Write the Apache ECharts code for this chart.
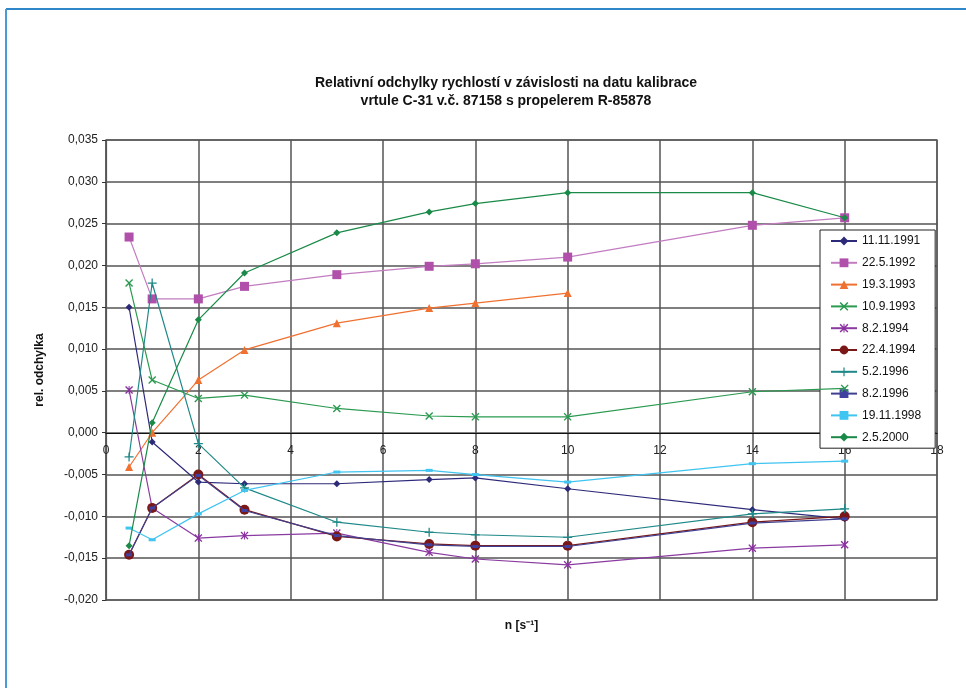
<!DOCTYPE html>
<html><head><meta charset="utf-8">
<script src="https://cdn.jsdelivr.net/npm/echarts@6/dist/echarts.min.js"></script>
<style>html,body{margin:0;padding:0;background:#fff}#c{width:966px;height:688px}</style>
</head><body><div id="c"></div>
<script>
const xValues = [0.5, 1, 2, 3, 5, 7, 8, 10, 14, 16];
const seriesNames = ['11.11.1991','22.5.1992','19.3.1993','10.9.1993','8.2.1994','22.4.1994','5.2.1996','8.2.1996','19.11.1998','2.5.2000'];
const s1991_11_11 = [0.0150, -0.0011, -0.0059, -0.0061, -0.0061, -0.0056, -0.0054, -0.0067, -0.0092, -0.0103];
const s1992_05_22 = [0.0234, 0.0160, 0.0160, 0.0175, 0.0189, 0.0199, 0.0202, 0.0210, 0.0248, 0.0257];
const s1993_03_19 = [-0.0041, 0.0000, 0.0063, 0.0099, 0.0131, 0.0149, 0.0155, 0.0167];
const s1993_09_10 = [0.0179, 0.0063, 0.0041, 0.0045, 0.0029, 0.0020, 0.0019, 0.0019, 0.0049, 0.0053];
const s1994_02_08 = [0.0051, -0.0090, -0.0126, -0.0123, -0.0120, -0.0143, -0.0151, -0.0158, -0.0138, -0.0134];
const s1994_04_22 = [-0.0146, -0.0090, -0.0050, -0.0092, -0.0124, -0.0133, -0.0135, -0.0135, -0.0107, -0.0100];
const s1996_02_05 = [-0.0029, 0.0179, -0.0013, -0.0066, -0.0107, -0.0119, -0.0122, -0.0125, -0.0097, -0.0091];
const s1996_02_08 = [-0.0146, -0.0090, -0.0051, -0.0093, -0.0123, -0.0134, -0.0136, -0.0136, -0.0108, -0.0103];
const s1998_11_19 = [-0.0114, -0.0128, -0.0097, -0.0069, -0.0047, -0.0045, -0.0050, -0.0059, -0.0037, -0.0034];
const s2000_05_02 = [-0.0135, 0.0012, 0.0135, 0.0191, 0.0239, 0.0264, 0.0274, 0.0287, 0.0287, 0.0257];
const yTicks = {min: -0.020, max: 0.035, interval: 0.005};
const xTicks = {min: 0, max: 18, interval: 2};

const allValues = [s1991_11_11, s1992_05_22, s1993_03_19, s1993_09_10, s1994_02_08, s1994_04_22, s1996_02_05, s1996_02_08, s1998_11_19, s2000_05_02];

const X_PATH = 'path://M0,1.2L1.2,0L5,3.8L8.8,0L10,1.2L6.2,5L10,8.8L8.8,10L5,6.2L1.2,10L0,8.8L3.8,5Z';
const PLUS_PATH = 'path://M4.3,0H5.7V4.3H10V5.7H5.7V10H4.3V5.7H0V4.3H4.3Z';
const AST_PATH = 'path://M0,1.2L1.2,0L5,3.8L8.8,0L10,1.2L6.2,5L10,8.8L8.8,10L5,6.2L1.2,10L0,8.8L3.8,5Z M4.4,0H5.6V10H4.4Z';

const styles = [
  {color:'#2e2a7a', line:'#2e2a7a', symbol:'diamond', size:7},
  {color:'#b050aa', line:'#c27cc0', symbol:'rect', size:9},
  {color:'#f07030', line:'#f07030', symbol:'triangle', size:8},
  {color:'#2a9a50', line:'#2a9a50', symbol:X_PATH, size:8},
  {color:'#8a30a0', line:'#8a3aa0', symbol:AST_PATH, size:8},
  {color:'#7a1818', line:'#7a1818', symbol:'circle', size:10},
  {color:'#1f8888', line:'#1f8888', symbol:PLUS_PATH, size:9},
  {color:'#4040a0', line:'#404090', symbol:'rect', size:[6,3]},
  {color:'#40c4f0', line:'#40c4f0', symbol:'rect', size:[7,3]},
  {color:'#1a8a48', line:'#1a8a48', symbol:'diamond', size:7}
];

const series = seriesNames.map((name, i) => ({
  name: name,
  type: 'line',
  data: allValues[i].map((v, j) => [xValues[j], v]),
  symbol: styles[i].symbol,
  symbolSize: styles[i].size,
  showAllSymbol: true,
  itemStyle: {color: styles[i].color},
  lineStyle: {color: styles[i].line, width: 1.2},
  z: 3 + i,
  animation: false
}));

const FONT = 'Liberation Sans, Arial, sans-serif';
const chart = echarts.init(document.getElementById('c'));
chart.setOption({
  animation: false,
  backgroundColor: '#fff',
  title: {
    text: 'Relativní odchylky rychlostí v závislosti na datu kalibrace\nvrtule C-31 v.č. 87158 s propelerem R-85878',
    left: 501, top: 69, textAlign: 'center',
    textStyle: {fontFamily: FONT, fontSize: 14, fontWeight: 'bold', color: '#111', lineHeight: 18}
  },
  legend: {
    orient: 'vertical', left: 820, top: 230,
    backgroundColor: '#fff', borderColor: '#222', borderWidth: 1,
    padding: [5, 14, 5, 10], itemGap: 9.8, itemWidth: 26, itemHeight: 11,
    textStyle: {fontFamily: FONT, fontSize: 12, color: '#111'},
    data: seriesNames
  },
  grid: {left: 106, top: 140, right: 29, bottom: 88, show: true, borderColor: '#777', borderWidth: 1.5,
    containLabel: false, outerBoundsMode: 'none'},
  xAxis: [{
    type: 'value', min: xTicks.min, max: xTicks.max, interval: xTicks.interval,
    name: 'n [s⁻¹]', nameLocation: 'middle', nameGap: 20,
    nameTextStyle: {fontFamily: FONT, fontSize: 12, fontWeight: 'bold', color: '#111'},
    axisLine: {onZero: false, show: false},
    axisTick: {show: false},
    axisLabel: {show: false},
    splitLine: {show: true, lineStyle: {color: '#555', width: 1.5}}
  }, {
    type: 'value', min: xTicks.min, max: xTicks.max, interval: xTicks.interval,
    position: 'bottom', offset: -167,
    axisLine: {onZero: false, show: true, lineStyle: {color: '#111', width: 1.2}},
    axisTick: {show: false},
    axisLabel: {fontFamily: FONT, fontSize: 12, color: '#222', margin: 12},
    splitLine: {show: false}
  }],
  yAxis: {
    type: 'value', min: yTicks.min, max: yTicks.max, interval: yTicks.interval,
    name: 'rel. odchylka', nameLocation: 'middle', nameGap: 60, nameRotate: 90,
    nameTextStyle: {fontFamily: FONT, fontSize: 12, fontWeight: 'bold', color: '#111'},
    axisLine: {show: true, onZero: false, lineStyle: {color: '#555', width: 1.2}},
    axisTick: {show: true, length: 4, inside: false, lineStyle: {color: '#333'}},
    axisLabel: {fontFamily: FONT, fontSize: 12, color: '#222', margin: 8,
      formatter: v => v.toFixed(3).replace('.', ',')},
    splitLine: {show: true, lineStyle: {color: '#555', width: 1.5}}
  },
  graphic: [
    {type: 'line', shape: {x1: 6, y1: 9, x2: 966, y2: 9}, style: {stroke: '#2f86c8', lineWidth: 2}, silent: true},
    {type: 'line', shape: {x1: 6, y1: 9, x2: 6, y2: 688}, style: {stroke: '#4a9ad8', lineWidth: 2}, silent: true}
  ],
  series: series
});
</script>
</body></html>
